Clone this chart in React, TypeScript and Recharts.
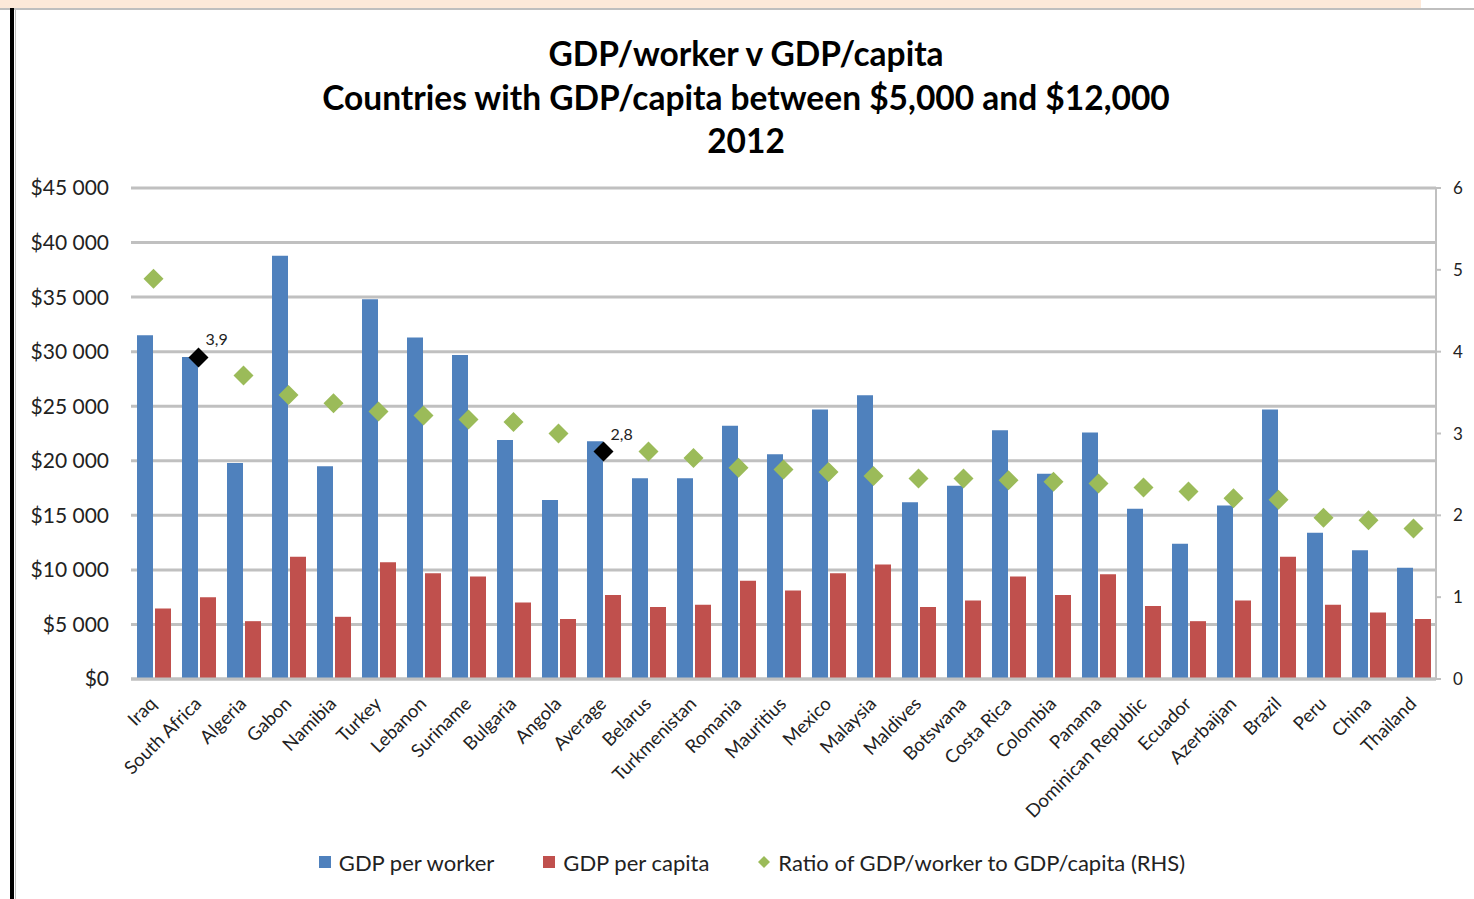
import {
  Bar,
  CartesianGrid,
  ComposedChart,
  Legend,
  Scatter,
  XAxis,
  YAxis,
} from 'recharts';

const countries = [
  'Iraq', 'South Africa', 'Algeria', 'Gabon', 'Namibia', 'Turkey', 'Lebanon', 'Suriname',
  'Bulgaria', 'Angola', 'Average', 'Belarus', 'Turkmenistan', 'Romania', 'Mauritius', 'Mexico',
  'Malaysia', 'Maldives', 'Botswana', 'Costa Rica', 'Colombia', 'Panama', 'Dominican Republic',
  'Ecuador', 'Azerbaijan', 'Brazil', 'Peru', 'China', 'Thailand',
];

const gdpPerWorker = [
  31500, 29500, 19800, 38800, 19500, 34800, 31300, 29700, 21900, 16400, 21800, 18400, 18400,
  23200, 20600, 24700, 26000, 16200, 17700, 22800, 18800, 22600, 15600, 12400, 15900, 24700,
  13400, 11800, 10200,
];

const gdpPerCapita = [
  6450, 7500, 5300, 11200, 5700, 10700, 9700, 9400, 7000, 5500, 7700, 6600, 6800, 9000, 8100,
  9700, 10500, 6600, 7200, 9400, 7700, 9600, 6700, 5300, 7200, 11200, 6800, 6100, 5500,
];

const ratio = [
  4.89, 3.93, 3.71, 3.47, 3.37, 3.27, 3.22, 3.17, 3.14, 3.0, 2.78, 2.78, 2.7, 2.58, 2.56, 2.53,
  2.48, 2.45, 2.45, 2.43, 2.41, 2.39, 2.34, 2.29, 2.21, 2.19, 1.97, 1.94, 1.84,
];

// only the two highlighted points carry a data label
const ratioLabels = countries.map((c) => (c === 'South Africa' ? '3,9' : c === 'Average' ? '2,8' : ''));

const seriesNames = [
  'GDP per worker',
  'GDP per capita',
  'Ratio of GDP/worker to GDP/capita (RHS)',
];

const leftTicks = [0, 5000, 10000, 15000, 20000, 25000, 30000, 35000, 40000, 45000];
const rightTicks = [0, 1, 2, 3, 4, 5, 6];

const titleLines = [
  'GDP/worker v GDP/capita',
  'Countries with GDP/capita between $5,000 and $12,000',
  '2012',
];

const data = countries.map((name, i) => ({
  name,
  worker: gdpPerWorker[i],
  capita: gdpPerCapita[i],
  ratio: ratio[i],
  label: ratioLabels[i],
}));

const FONT = 'Lato, "Open Sans", sans-serif';
const BLUE = '#4f81bd';
const RED = '#c0504d';
const GREEN = '#9bbb59';
const GRID = '#c0c0c0';

const money = (v: number) => {
  if (v === 0) return '$0';
  const k = Math.floor(v / 1000);
  return `$${k} 000`;
};

const Diamond = (props: any) => {
  const { cx, cy, payload } = props;
  if (cx == null || cy == null) return null;
  const hot = payload && payload.label;
  const r = 10;
  return (
    <g>
      <polygon
        points={`${cx},${cy - r} ${cx + r},${cy} ${cx},${cy + r} ${cx - r},${cy}`}
        fill={hot ? '#000000' : GREEN}
      />
      {hot ? (
        <text x={cx + 7} y={cy - 12} fontSize={16} fontFamily={FONT} fill="#222">
          {payload.label}
        </text>
      ) : null}
    </g>
  );
};

const XTick = (props: any) => {
  const { x, y, payload } = props;
  return (
    <text
      transform={`translate(${x + 4},${y + 26}) rotate(-45)`}
      textAnchor="end"
      fontSize={18.5}
      fontFamily={FONT}
      fill="#222"
    >
      {payload.value}
    </text>
  );
};

const LegendBox = (props: any) => {
  const items = [...(props.payload || [])].sort(
    (a: any, b: any) => seriesNames.indexOf(a.value) - seriesNames.indexOf(b.value),
  );
  return (
    <div
      style={{
        display: 'flex',
        justifyContent: 'center',
        alignItems: 'center',
        gap: 48,
        height: 26,
        paddingLeft: 29,
        fontFamily: FONT,
        fontSize: 22,
        color: '#222',
      }}
    >
      {items.map((it: any) => (
        <div key={it.value} style={{ display: 'flex', alignItems: 'center', gap: 7 }}>
          <svg width={14} height={14}>
            {it.type === 'diamond' ? (
              <polygon points="7,1 13,7 7,13 1,7" fill={it.color} />
            ) : (
              <rect x={1} y={1} width={12} height={12} fill={it.color} />
            )}
          </svg>
          <span>{it.value}</span>
        </div>
      ))}
    </div>
  );
};

export default function App() {
  return (
    <div style={{ position: 'absolute', left: 0, top: 0, width: 1474, height: 899, background: '#fff', overflow: 'hidden' }}>
      <div style={{ position: 'absolute', left: 0, top: 0, width: 1421, height: 8, background: '#fde9d9' }} />
      <div style={{ position: 'absolute', left: 0, top: 8, width: 1474, height: 2, background: '#bfbfbf' }} />
      <div style={{ position: 'absolute', left: 10, top: 8, width: 4, height: 891, background: '#000' }} />
      <div style={{ position: 'absolute', left: 15, top: 10, width: 1, height: 889, background: '#bfbfbf' }} />

      <div
        style={{
          position: 'absolute',
          left: 16,
          top: 32,
          width: 1460,
          textAlign: 'center',
          fontFamily: FONT,
          fontWeight: 700,
          fontSize: 33.5,
          lineHeight: '43.5px',
          color: '#000',
        }}
      >
        {titleLines.map((t) => (
          <div key={t}>{t}</div>
        ))}
      </div>

      <div style={{ position: 'absolute', left: 0, top: 0 }}>
        <ComposedChart
          width={1474}
          height={899}
          data={data}
          margin={{ top: 188, right: 0, bottom: 24, left: 0 }}
          barGap={2}
          barCategoryGap={5}
        >
          <CartesianGrid yAxisId="left" vertical={false} stroke={GRID} strokeWidth={3} />
          <XAxis
            dataKey="name"
            interval={0}
            tickLine={false}
            tickSize={0}
            tickMargin={0}
            height={170}
            axisLine={{ stroke: GRID, strokeWidth: 3 }}
            tick={<XTick />}
          />
          <YAxis
            yAxisId="left"
            width={131}
            domain={[0, 45000]}
            ticks={leftTicks}
            tickFormatter={money}
            axisLine={false}
            tickLine={false}
            tickSize={0}
            tickMargin={22}
            tick={{ fontSize: 21, fontFamily: FONT, fill: '#222' }}
          />
          <YAxis
            yAxisId="right"
            orientation="right"
            width={38}
            domain={[0, 6]}
            ticks={rightTicks}
            axisLine={{ stroke: GRID, strokeWidth: 2 }}
            tickLine={{ stroke: GRID, strokeWidth: 2 }}
            tickSize={5}
            tickMargin={12}
            tick={{ fontSize: 17, fontFamily: FONT, fill: '#222', textAnchor: 'start' }}
          />
          <Bar yAxisId="left" dataKey="worker" name={seriesNames[0]} fill={BLUE} barSize={16} isAnimationActive={false} />
          <Bar yAxisId="left" dataKey="capita" name={seriesNames[1]} fill={RED} barSize={16} isAnimationActive={false} />
          <Scatter
            yAxisId="right"
            dataKey="ratio"
            name={seriesNames[2]}
            fill={GREEN}
            legendType="diamond"
            shape={<Diamond />}
            isAnimationActive={false}
          />
          <Legend verticalAlign="bottom" content={<LegendBox />} />
        </ComposedChart>
      </div>
    </div>
  );
}
